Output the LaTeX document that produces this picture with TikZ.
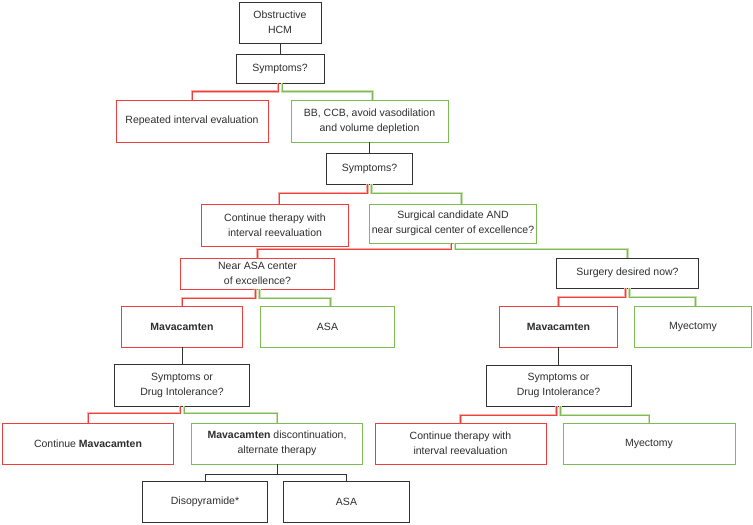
\documentclass[tikz,border=0pt]{standalone}
\usepackage{fontspec}
\setmainfont{Liberation Sans}
\usetikzlibrary{positioning}

\definecolor{boxred}{RGB}{240,62,60}
\definecolor{halored}{RGB}{250,172,162}
\definecolor{boxgreen}{RGB}{128,186,84}
\definecolor{halogreen}{RGB}{198,226,174}
\definecolor{boxgray}{RGB}{50,50,50}
\definecolor{txtgray}{RGB}{45,45,45}

\begin{document}
\begin{tikzpicture}[x=1pt,y=1pt,node distance=17pt,
                    font=\fontsize{10.5}{15}\selectfont,text=txtgray]
  \tikzstyle{box}=[rectangle,align=center,inner sep=2pt,outer sep=0pt,line width=0.85pt]
  \tikzstyle{ask}=[box,draw=boxgray]
  \tikzstyle{nobox}=[box,draw=boxred]
  \tikzstyle{yesbox}=[box,draw=boxgreen]
  \tikzstyle{plain}=[draw=boxgray,line width=0.85pt]
  \tikzstyle{nolink}=[draw=boxred,line width=0.8pt,preaction={draw=halored,line width=2.6pt}]
  \tikzstyle{yeslink}=[draw=boxgreen,line width=0.8pt,preaction={draw=halogreen,line width=2.6pt}]

  \useasboundingbox (-280,22.5) rectangle (473,-502.5);

  \node[ask, minimum width=82pt, minimum height=41pt]     (hcm)   {Obstructive\\HCM};
  \node[ask, minimum width=88pt, minimum height=29pt]     (sym1)  [below=11pt of hcm] {Symptoms?};
  \node[nobox, minimum width=152pt, minimum height=42pt]  (rep)   [below=of sym1, xshift=-88pt] {Repeated interval evaluation};
  \node[yesbox, minimum width=157pt, minimum height=42pt] (bb)    [below=of sym1, xshift=89.5pt] {BB, CCB, avoid vasodilation\\and volume depletion};
  \node[ask, minimum width=86pt, minimum height=31pt]     (sym2)  [below=11pt of bb] {Symptoms?};
  \node[nobox, minimum width=147pt, minimum height=42pt]  (cont1) [below=20pt of sym2, xshift=-94.5pt] {Continue therapy with\\interval reevaluation};
  \node[yesbox, minimum width=157pt, minimum height=39pt] (surg)  [below=20pt of sym2, xshift=83.5pt] {Surgical candidate AND\\near surgical center of excellence?};
  \node[nobox, minimum width=154pt, minimum height=31pt]  (nasa)  [below=15pt of surg, xshift=-195.5pt] {Near ASA center\\of excellence?};
  \node[ask, minimum width=142pt, minimum height=30pt]    (surgd) [below=15pt of surg, xshift=174.5pt] {Surgery desired now?};

  % left branch
  \node[nobox, minimum width=121pt, minimum height=41pt]  (mavaL) [below=of nasa, xshift=-75.5pt] {\textbf{Mavacamten}};
  \node[yesbox, minimum width=134pt, minimum height=41pt] (asaL)  [below=of nasa, xshift=70pt] {ASA};
  \node[ask, minimum width=135pt, minimum height=42pt]    (symL)  [below=of mavaL] {Symptoms or\\Drug Intolerance?};
  \node[nobox, minimum width=171pt, minimum height=41pt]  (contM) [below=of symL, xshift=-94pt] {Continue \textbf{Mavacamten}};
  \node[yesbox, minimum width=171pt, minimum height=41pt] (disc)  [below=of symL, xshift=95pt] {\textbf{Mavacamten} discontinuation,\\alternate therapy};
  \node[ask, minimum width=125pt, minimum height=41pt]    (diso)  [below=of disc, xshift=-72pt] {Disopyramide*};
  \node[ask, minimum width=126pt, minimum height=41pt]    (asaB)  [below=of disc, xshift=69.5pt] {ASA};

  % right branch
  \node[nobox, minimum width=118pt, minimum height=41pt]  (mavaR) [below=18pt of surgd, xshift=-69pt] {\textbf{Mavacamten}};
  \node[yesbox, minimum width=117pt, minimum height=41pt] (myec1) [below=18pt of surgd, xshift=65.5pt] {Myectomy};
  \node[ask, minimum width=145pt, minimum height=41pt]    (symR)  [below=18pt of mavaR] {Symptoms or\\Drug Intolerance?};
  \node[nobox, minimum width=171pt, minimum height=41pt]  (contR) [below=of symR, xshift=-98pt] {Continue therapy with\\interval reevaluation};
  \node[yesbox, minimum width=172pt, minimum height=41pt] (myec2) [below=of symR, xshift=90.5pt] {Myectomy};

  \draw[plain] (hcm) -- (sym1);
  \draw[nolink]  ([xshift=-2pt]sym1.south) -- ++(0,-8.5) -| (rep.north);
  \draw[yeslink] ([xshift=2pt]sym1.south) -- ++(0,-8.5) -| ([xshift=3pt]bb.north);
  \draw[plain] (bb) -- (sym2);
  \draw[nolink]  ([xshift=-2pt]sym2.south) -- ++(0,-9) -| ([xshift=4pt]cont1.north);
  \draw[yeslink] ([xshift=2pt]sym2.south) -- ++(0,-9) -| ([xshift=8.5pt]surg.north);
  \draw[nolink]  ([xshift=-2pt]surg.south) -- ++(0,-6) -| (nasa.north);
  \draw[yeslink] ([xshift=2pt]surg.south) -- ++(0,-6) -| (surgd.north);

  \draw[nolink]  ([xshift=-2pt]nasa.south) -- ++(0,-9) -| (mavaL.north);
  \draw[yeslink] ([xshift=2pt]nasa.south) -- ++(0,-9) -| ([xshift=3pt]asaL.north);
  \draw[plain] (mavaL) -- (symL);
  \draw[nolink]  ([xshift=-2pt]symL.south) -- ++(0,-7) -| (contM.north);
  \draw[yeslink] ([xshift=2pt]symL.south) -- ++(0,-7) -| (disc.north);
  \draw[plain] (disc.south) -- ++(0,-10) -| (diso.north);
  \draw[plain] (disc.south) ++(0,-10) -| (asaB.north);

  \draw[nolink]  ([xshift=-2pt]surgd.south) -- ++(0,-9) -| (mavaR.north);
  \draw[yeslink] ([xshift=2pt]surgd.south) -- ++(0,-9) -| ([xshift=2.5pt]myec1.north);
  \draw[plain] (mavaR) -- (symR);
  \draw[nolink]  ([xshift=-2pt]symR.south) -- ++(0,-9) -| (contR.north);
  \draw[yeslink] ([xshift=2pt]symR.south) -- ++(0,-9) -| (myec2.north);
\end{tikzpicture}
\end{document}
